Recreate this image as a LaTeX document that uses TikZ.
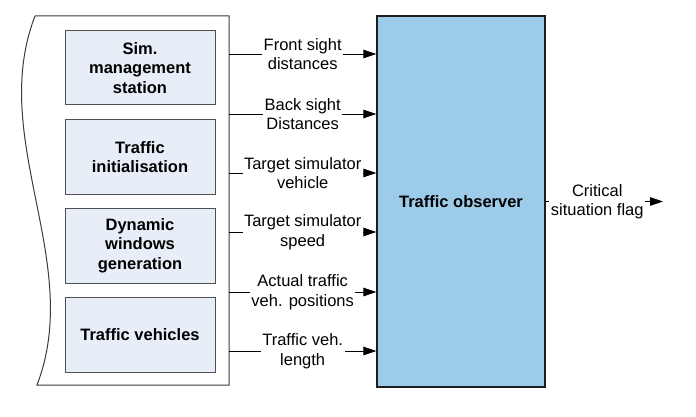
\documentclass[tikz,border=0pt]{standalone}
\usepackage{fontspec}
\setmainfont{Liberation Sans}
\usetikzlibrary{arrows.meta}
\definecolor{boxfill}{HTML}{E8EEF8}
\definecolor{boxline}{HTML}{505050}
\definecolor{obsfill}{HTML}{9DCBEA}
\definecolor{obsline}{HTML}{1E1E1E}
\definecolor{contline}{HTML}{3A3A3A}
\begin{document}
\begin{tikzpicture}[x=1pt,y=-1pt,
  every node/.style={font=\fontsize{16.5}{19.5}\selectfont},
  inbox/.style={draw=boxline,fill=boxfill,line width=1pt,minimum width=150pt,minimum height=74pt,align=center,inner sep=0pt,font=\fontsize{16.5}{19.5}\selectfont\bfseries},
  obsbox/.style={draw=obsline,fill=obsfill,line width=1.2pt,minimum width=168pt,minimum height=371pt,inner sep=0pt,font=\fontsize{16.5}{19.5}\selectfont\bfseries},
  lab/.style={fill=white,inner sep=1.5pt,align=center},
  arr/.style={line width=0.9pt,-{Triangle[length=13pt,width=8.5pt]}}
]
\useasboundingbox (0,0) rectangle (696,417);
% container
\draw[contline,line width=1pt] (35,16) -- (229,16) -- (229,385) -- (37,385)
  .. controls (84.3,262) and (-12.35,139) .. (35,16);
% inner boxes
\node[inbox] (b1) at (140,68) {Sim.\\management\\station};
\node[inbox] (b2) at (140,157) {Traffic\\initialisation};
\node[inbox,minimum height=75pt] (b3) at (140,245.5) {Dynamic\\windows\\generation};
\node[inbox,minimum height=75pt] (b4) at (140,334.5) {Traffic vehicles};
% observer
\node[obsbox] (obs) at (461,201.5) {Traffic observer};
% arrow start points on the container edge
\coordinate (s1) at (229,54);
\coordinate (s2) at (229,114);
\coordinate (s3) at (229,173);
\coordinate (s4) at (229,232);
\coordinate (s5) at (229,292);
\coordinate (s6) at (229,351);
\coordinate (out) at (663,201.5);
\draw[arr] (s1) -- (s1 -| obs.west) node[midway,lab] {Front sight\\distances};
\draw[arr] (s2) -- (s2 -| obs.west) node[midway,lab] {Back sight\\Distances};
\draw[arr] (s3) -- (s3 -| obs.west) node[midway,lab] {Target simulator\\vehicle};
\draw[arr] (s4) -- (s4 -| obs.west) node[midway,lab] {Target simulator\\speed};
\draw[arr] (s5) -- (s5 -| obs.west) node[midway,lab] {Actual traffic\\veh. positions};
\draw[arr] (s6) -- (s6 -| obs.west) node[midway,lab] {Traffic veh.\\length};
\draw[arr] (obs.east) -- (out) node[pos=0.44,lab] {Critical\\situation flag};
\end{tikzpicture}
\end{document}
